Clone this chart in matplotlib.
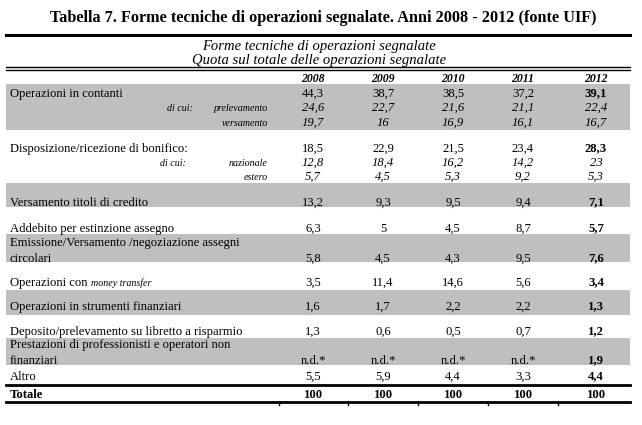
import matplotlib.pyplot as plt

years = ["2008", "2009", "2010", "2011", "2012"]

title = "Tabella 7. Forme tecniche di operazioni segnalate. Anni 2008 - 2012 (fonte UIF)"
subtitle = ["Forme tecniche di operazioni segnalate",
            "Quota sul totale delle operazioni segnalate"]

# main rows: label lines, values per year (None = n.d.*)
main_labels = [
    ["Operazioni in contanti"],
    ["Disposizione/ricezione di bonifico:"],
    ["Versamento titoli di credito"],
    ["Addebito per estinzione assegno"],
    ["Emissione/Versamento /negoziazione assegni", "circolari"],
    ["Operazioni con "],
    ["Operazioni in strumenti finanziari"],
    ["Deposito/prelevamento su libretto a risparmio"],
    ["Prestazioni di professionisti e operatori non", "finanziari"],
    ["Altro"],
]
main_values = [
    [44.3, 38.7, 38.5, 37.2, 39.1],
    [18.5, 22.9, 21.5, 23.4, 28.3],
    [13.2, 9.3, 9.5, 9.4, 7.1],
    [6.3, 5, 4.5, 8.7, 5.7],
    [5.8, 4.5, 4.3, 9.5, 7.6],
    [3.5, 11.4, 14.6, 5.6, 3.4],
    [1.6, 1.7, 2.2, 2.2, 1.3],
    [1.3, 0.6, 0.5, 0.7, 1.2],
    [None, None, None, None, 1.9],
    [5.5, 5.9, 4.4, 3.3, 4.4],
]

# "di cui" sub rows
contanti_sub = ["prelevamento", "versamento"]
contanti_sub_values = [
    [24.6, 22.7, 21.6, 21.1, 22.4],
    [19.7, 16, 16.9, 16.1, 16.7],
]
bonifico_sub = ["nazionale", "estero"]
bonifico_sub_values = [
    [12.8, 18.4, 16.2, 14.2, 23],
    [5.7, 4.5, 5.3, 9.2, 5.3],
]

totale_values = [100, 100, 100, 100, 100]

# layout (pixels, y = baseline)
col_x = [313, 383, 453, 523, 596]
main_y = [97, 152, 206, 232, 262, 286, 310, 335, 364, 380]
bands = [(84, 130), (183, 207), (234, 262), (290, 315), (338, 365)]
sub_y_contanti = [111, 126]
sub_y_bonifico = [166, 180]

FONT = "Liberation Serif"
FS = 9.1
SFS = 7.2


def fmt(v):
    if v is None:
        return "n.d.*"
    return f"{v:g}".replace(".", ",")


fig = plt.figure(figsize=(6.42, 4.25), dpi=100)
ax = fig.add_axes([0, 0, 1, 1])
ax.set_xlim(0, 642)
ax.set_ylim(425, 0)
ax.axis("off")

for y0, y1 in bands:
    ax.fill_between([6, 630], y0, y1, color="#bfbfbf", lw=0, zorder=0)

ax.text(323, 22, title, ha="center", va="baseline", fontsize=11.7,
        fontweight="bold", family=FONT)
ax.plot([6, 630], [35, 35], color="black", lw=2.2)
ax.text(319, 50, subtitle[0], ha="center", va="baseline", fontsize=10.5,
        style="italic", family=FONT)
ax.text(319, 63.5, subtitle[1], ha="center", va="baseline", fontsize=10.5,
        style="italic", family=FONT)
ax.plot([6, 630], [67, 67], color="black", lw=1.0)
ax.plot([6, 630], [70, 70], color="black", lw=1.0)

for x, yr in zip(col_x, years):
    ax.text(x, 82, yr, ha="center", va="baseline", fontsize=8.5,
            fontweight="bold", style="italic", family=FONT)

for i, (lines, vals) in enumerate(zip(main_labels, main_values)):
    y = main_y[i]
    if len(lines) == 2:
        ax.text(10, y - 16, lines[0], ha="left", va="baseline", fontsize=FS,
                family=FONT)
        ax.text(10, y, lines[1], ha="left", va="baseline", fontsize=FS,
                family=FONT)
    else:
        t = ax.text(10, y, lines[0], ha="left", va="baseline", fontsize=FS,
                    family=FONT)
        if lines[0] == "Operazioni con ":
            ax.annotate("money transfer", xy=(1, 0.5), xycoords=t,
                        ha="left", va="center", fontsize=SFS,
                        style="italic", family=FONT)
    for j, v in enumerate(vals):
        bold = j == 4
        ax.text(col_x[j], y - (0.7 if bold else 0), fmt(v), ha="center",
                va="baseline", fontsize=FS, family=FONT,
                fontweight="bold" if bold else "normal")


def sub_rows(names, values, ys, dicui_x):
    for k, (nm, vals, y) in enumerate(zip(names, values, ys)):
        if k == 0:
            ax.text(dicui_x, y, "di cui:", ha="right", va="baseline",
                    fontsize=SFS, style="italic", family=FONT)
        ax.text(268, y, nm, ha="right", va="baseline", fontsize=SFS,
                style="italic", family=FONT)
        for j, v in enumerate(vals):
            ax.text(col_x[j], y, fmt(v), ha="center", va="baseline",
                    fontsize=FS, style="italic", family=FONT)


sub_rows(contanti_sub, contanti_sub_values, sub_y_contanti, 193)
sub_rows(bonifico_sub, bonifico_sub_values, sub_y_bonifico, 186)

ax.plot([6, 630], [385, 385], color="black", lw=2.0)
ax.text(10, 398, "Totale", ha="left", va="baseline", fontsize=FS,
        fontweight="bold", family=FONT)
for j, v in enumerate(totale_values):
    ax.text(col_x[j], 398, fmt(v), ha="center", va="baseline", fontsize=FS,
            fontweight="bold", family=FONT)
ax.plot([6, 630], [402, 402], color="black", lw=2.0)
for x in [279, 348, 418, 488, 558]:
    ax.plot([x, x], [402, 405], color="black", lw=1.0)

fig.savefig("out.png", dpi=100)
